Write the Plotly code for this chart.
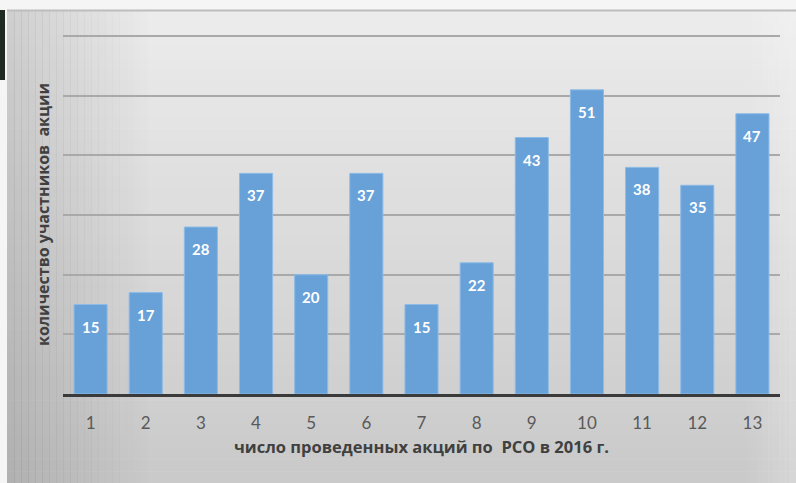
import plotly.graph_objects as go

categories = ["1", "2", "3", "4", "5", "6", "7", "8", "9", "10", "11", "12", "13"]
participants = [15, 17, 28, 37, 20, 37, 15, 22, 43, 51, 38, 35, 47]
y_ticks = [0, 10, 20, 30, 40, 50, 60]
x_title = "число проведенных акций по  РСО в 2016 г."
y_title = "количество участников  акции"

W, H = 796, 483
L, R, T, B = 63, 16, 35, 89
pw, ph = W - L - R, H - T - B

def px_x(p):
    return (p - L) / pw

def px_y(p):
    return (H - B - p) / ph

fig = go.Figure()
fig.add_trace(go.Bar(
    x=categories, y=participants,
    marker=dict(color="#67a1d8", line=dict(color="#8dbbe6", width=1)),
    width=0.6, hoverinfo="skip",
))

shapes = []
x0, x1 = px_x(7), px_x(796)
top_px, bot_px = 10, 483
n = 40
for i in range(n):
    a = top_px + (bot_px - top_px) * i / n
    b = top_px + (bot_px - top_px) * (i + 1) / n + 0.5
    t = i / (n - 1)
    c = int(236 - 34 * t)
    shapes.append(dict(type="rect", xref="paper", yref="paper", layer="below",
                       x0=x0, x1=x1, y0=px_y(b), y1=px_y(a),
                       fillcolor=f"rgb({c},{c},{c})", line=dict(width=0)))
m = 20
for i in range(m):
    a = 7 + 140 * i / m
    b = 7 + 140 * (i + 1) / m + 0.5
    op = 0.12 * (1 - i / m)
    shapes.append(dict(type="rect", xref="paper", yref="paper", layer="below",
                       x0=px_x(a), x1=px_x(b), y0=px_y(bot_px), y1=px_y(top_px),
                       fillcolor=f"rgba(0,0,0,{op:.3f})", line=dict(width=0)))
for i in range(10):
    a = 740 + 56 * i / 10
    b = 740 + 56 * (i + 1) / 10 + 0.5
    op = 0.25 * (i / 10)
    shapes.append(dict(type="rect", xref="paper", yref="paper", layer="below",
                       x0=px_x(a), x1=px_x(b), y0=px_y(bot_px), y1=px_y(top_px),
                       fillcolor=f"rgba(255,255,255,{op:.3f})", line=dict(width=0)))
shapes.append(dict(type="line", xref="paper", yref="paper", layer="below",
                   x0=x0, x1=x1, y0=px_y(10.5), y1=px_y(10.5),
                   line=dict(color="#bdbdbd", width=2)))
shapes.append(dict(type="rect", xref="paper", yref="paper", layer="above",
                   x0=px_x(0), x1=px_x(5), y0=px_y(80), y1=px_y(10),
                   fillcolor="#1f2a22", line=dict(width=0)))

annotations = []
for i, v in enumerate(participants):
    annotations.append(dict(x=i, y=v, xref="x", yref="y", text=f"<b>{v}</b>",
                            showarrow=False, yanchor="middle", yshift=-22,
                            font=dict(family="Lato, Open Sans, sans-serif", size=15, color="white")))

fig.update_layout(
    width=W, height=H,
    margin=dict(l=L, r=R, t=T, b=B, autoexpand=False),
    paper_bgcolor="#f5f5f5",
    plot_bgcolor="rgba(0,0,0,0)",
    showlegend=False,
    bargap=0.4,
    shapes=shapes,
    annotations=annotations,
    xaxis=dict(
        type="category",
        range=[-0.5, len(categories) - 0.5],
        automargin=False,
        showgrid=False,
        showline=True, linecolor="#3a3a3a", linewidth=3,
        ticks="", ticklabelstandoff=12,
        tickfont=dict(family="Lato, Open Sans, sans-serif", size=17, color="#595959"),
        title=dict(text=f"<b>{x_title}</b>", standoff=10,
                   font=dict(family="Open Sans, Lato, sans-serif", size=16.5, color="#404040")),
        fixedrange=True,
    ),
    yaxis=dict(
        range=[0, 60.2],
        automargin=False,
        tickvals=y_ticks,
        showticklabels=False,
        showgrid=True, gridcolor="#a9a9a9", gridwidth=2,
        zeroline=False, showline=False, ticks="",
        title=dict(text=f"<b>{y_title}</b>", standoff=8,
                   font=dict(family="Open Sans, Lato, sans-serif", size=16, color="#404040")),
        fixedrange=True,
    ),
)

fig.write_html("out.html", config={"displayModeBar": False},
               post_script="document.body.style.margin='0px';document.body.style.overflow='hidden';")
